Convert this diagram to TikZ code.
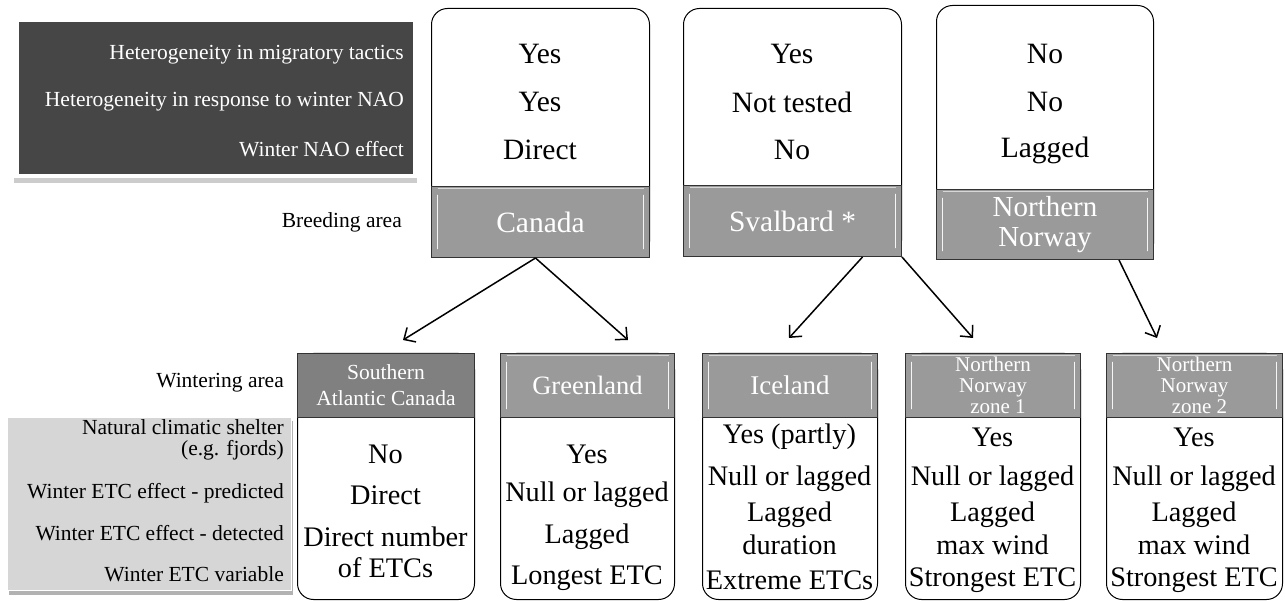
\documentclass[tikz,border=0pt]{standalone}
\usepackage{fontspec}
\setmainfont{Liberation Serif}
\usetikzlibrary{arrows.meta,calc}
\definecolor{hdrgray}{HTML}{9A9A9A}
\definecolor{sacgray}{HTML}{808080}
\definecolor{darkfill}{HTML}{464646}
\definecolor{lightfill}{HTML}{D6D6D6}
\begin{document}
\begin{tikzpicture}[x=1pt,y=-1pt,
  lbl/.style={font=\fontsize{21.5}{24}\selectfont, anchor=east, inner sep=0},
  wlbl/.style={lbl, text=white},
  vtop/.style={font=\fontsize{29.5}{32}\selectfont, inner sep=0},
  vbot/.style={font=\fontsize{28.3}{30}\selectfont, inner sep=0},
  body/.style={draw=black, line width=1pt, fill=white, rounded corners=16pt, anchor=north west, inner sep=0},
  bevel/.style={path picture={
     \draw[white!92!gray, line width=1.8pt, line cap=round]
       ([xshift=6pt,yshift=-9pt]path picture bounding box.north west) --
       ([xshift=6pt,yshift=9pt]path picture bounding box.south west);
     \draw[white!92!gray, line width=1.8pt, line cap=round]
       ([xshift=-6pt,yshift=-9pt]path picture bounding box.north east) --
       ([xshift=-6pt,yshift=9pt]path picture bounding box.south east);
     \draw[white!60!hdrgray, line width=1pt]
       ([xshift=6pt,yshift=-2pt]path picture bounding box.north west) --
       ([xshift=-6pt,yshift=-2pt]path picture bounding box.north east);
  }},
  hdr/.style={draw=black!80, line width=1pt, fill=hdrgray, text=white, anchor=north west,
     inner sep=0, align=center, bevel},
  sachdr/.style={draw=black!80, line width=1pt, fill=sacgray, text=white, anchor=north west,
     inner sep=0, align=center},
  arr/.style={line width=1.5pt, -{Straight Barb[length=9pt,width=17pt,line width=1.5pt]}},
]
\useasboundingbox (0,0) rectangle (1285,601);

% ---------- top-left legend ----------
\fill[black!20] (14,24) rectangle (417,183);
\node[fill=white, anchor=north west, minimum width=406pt, minimum height=162pt, inner sep=0] (legframe) at (12,16) {};
\node[fill=darkfill, anchor=north west, minimum width=394pt, minimum height=152pt, inner sep=0] (legend) at (19,22) {};
\node[wlbl] (l1) at (404,55) {Heterogeneity in migratory tactics};
\node[wlbl] (l2) at (404,102) {Heterogeneity in response to winter NAO};
\node[wlbl] (l3) at (404,149) {Winter NAO effect};
\node[lbl] (breeding) at (402,222) {Breeding area};

% ---------- top boxes ----------
\node[body, minimum width=218pt, minimum height=249pt] (cbody) at (431,8) {};
\node[hdr, minimum width=218pt, minimum height=71pt, font=\fontsize{29.5}{32}\selectfont] (canada) at (431,186) {Canada};
\node[vtop] (c1) at (540,54) {Yes};
\node[vtop] (c2) at (540,102) {Yes};
\node[vtop] (c3) at (540,150) {Direct};

\node[body, minimum width=218pt, minimum height=248pt] (sbody) at (683,8) {};
\node[hdr, minimum width=218pt, minimum height=71pt, font=\fontsize{29.5}{32}\selectfont] (svalbard) at (683,185) {Svalbard *};
\node[vtop] (s1) at (792,54) {Yes};
\node[vtop] (s2) at (792,102) {Not tested};
\node[vtop] (s3) at (792,150) {No};

\node[body, minimum width=217pt, minimum height=254pt] (nbody) at (936,5) {};
\node[hdr, minimum width=217pt, minimum height=70pt, font=\fontsize{29}{30}\selectfont] (nnorway) at (936,189) {Northern\\Norway};
\node[vtop] (n1) at (1045,54) {No};
\node[vtop] (n2) at (1045,102) {No};
\node[vtop] (n3) at (1045,150) {Lagged};

% ---------- bottom-left legend ----------
\fill[black!30] (9,421) rectangle (293,595);
\node[fill=white, anchor=north west, minimum width=287pt, minimum height=176pt, inner sep=0] (leg2frame) at (5,415) {};
\node[fill=lightfill, anchor=north west, minimum width=283pt, minimum height=172pt, inner sep=0] (legend2) at (8,418) {};
\node[lbl] (wintering) at (284,383) {Wintering area};
\node[lbl, align=right, font=\fontsize{21.5}{21}\selectfont] (b1) at (284,440) {Natural climatic shelter\\(e.g. fjords)};
\node[lbl] (b2) at (284,493) {Winter ETC effect - predicted};
\node[lbl] (b3) at (284,533) {Winter ETC effect - detected};
\node[lbl] (b4) at (284,574) {Winter ETC variable};

% ---------- bottom boxes ----------
% Southern Atlantic Canada
\node[body, minimum width=177pt, minimum height=246pt] (sacbody) at (297,353) {};
\node[sachdr, minimum width=177pt, minimum height=64pt, font=\fontsize{21.5}{26}\selectfont] (sac) at (297,353) {Southern\\Atlantic Canada};
\node[vbot] (sa1) at (385.5,454) {No};
\node[vbot] (sa2) at (385.5,495) {Direct};
\node[vbot, align=center, font=\fontsize{28.3}{31}\selectfont] (sa3) at (385.5,552) {Direct number\\of ETCs};

% Greenland
\node[body, minimum width=174pt, minimum height=246pt] (glbody) at (500,353) {};
\node[hdr, minimum width=174pt, minimum height=64pt, font=\fontsize{26.5}{30}\selectfont] (greenland) at (500,353) {Greenland};
\node[vbot] (g1) at (587,454) {Yes};
\node[vbot] (g2) at (587,495) {Null or lagged};
\node[vbot] (g3) at (587,537) {Lagged};
\node[vbot] (g4) at (587,578) {Longest ETC};

% Iceland
\node[body, minimum width=175pt, minimum height=246pt] (icbody) at (702,353) {};
\node[hdr, minimum width=175pt, minimum height=64pt, font=\fontsize{27}{30}\selectfont] (iceland) at (702,353) {Iceland};
\node[vbot] (i1) at (789.5,437) {Yes (partly)};
\node[vbot] (i2) at (789.5,479) {Null or lagged};
\node[vbot, align=center, font=\fontsize{28.3}{33}\selectfont] (i3) at (789.5,528.5) {Lagged\\duration};
\node[vbot] (i5) at (789.5,580) {Extreme ETCs};

% Northern Norway zone 1
\node[body, minimum width=175pt, minimum height=246pt] (z1body) at (905,353) {};
\node[hdr, minimum width=175pt, minimum height=64pt, font=\fontsize{21}{21}\selectfont] (zone1) at (905,353) {Northern\\Norway\\\hspace*{10pt}zone 1};
\node[vbot] (za1) at (992.5,437) {Yes};
\node[vbot] (za2) at (992.5,479) {Null or lagged};
\node[vbot, align=center, font=\fontsize{28.3}{33}\selectfont] (za3) at (992.5,528.5) {Lagged\\max wind};
\node[vbot] (za5) at (992.5,580) {Strongest ETC};

% Northern Norway zone 2
\node[body, minimum width=176pt, minimum height=246pt] (z2body) at (1106,353) {};
\node[hdr, minimum width=176pt, minimum height=64pt, font=\fontsize{21}{21}\selectfont] (zone2) at (1106,353) {Northern\\Norway\\\hspace*{10pt}zone 2};
\node[vbot] (zb1) at (1194,437) {Yes};
\node[vbot] (zb2) at (1194,479) {Null or lagged};
\node[vbot, align=center, font=\fontsize{28.3}{33}\selectfont] (zb3) at (1194,528.5) {Lagged\\max wind};
\node[vbot] (zb5) at (1194,580) {Strongest ETC};

% ---------- arrows ----------
\coordinate (tSAC) at (403,340);
\coordinate (tGL) at (628,340);
\coordinate (tIC) at (789,338);
\coordinate (tZ1) at (973,338);
\coordinate (tZ2) at (1157,338);
\draw[arr] ([xshift=-5pt]canada.south) -- (tSAC);
\draw[arr] ([xshift=-5pt]canada.south) -- (tGL);
\draw[arr] ([xshift=70pt]svalbard.south) -- (tIC);
\draw[arr] (svalbard.south east) -- (tZ1);
\draw[arr] ([xshift=74pt]nnorway.south) -- (tZ2);
\end{tikzpicture}
\end{document}
